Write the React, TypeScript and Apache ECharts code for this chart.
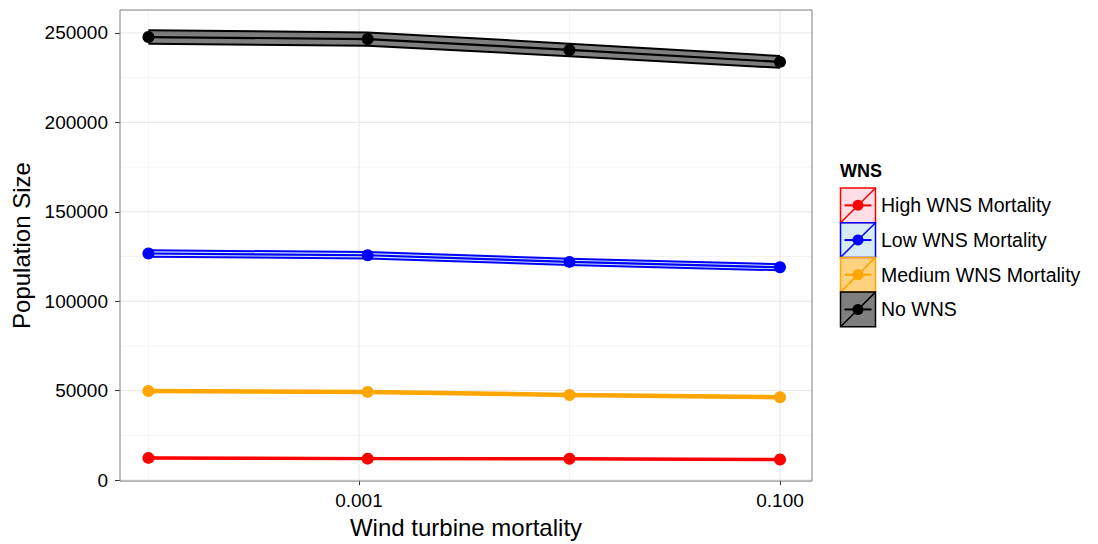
import React, { useEffect, useRef } from "react";
import * as echarts from "echarts";

// ---- data ----
const X_VALUES = [0.0001, 0.0011, 0.01, 0.1];
const X_TICKS = [0.001, 0.1];
const X_TICK_LABELS = ["0.001", "0.100"];
const X_MINOR = [0.0001, 0.01];
const Y_TICKS = [0, 50000, 100000, 150000, 200000, 250000];
const Y_MINOR = [25000, 75000, 125000, 175000, 225000];

const GROUP_NAMES = ["High WNS Mortality", "Low WNS Mortality", "Medium WNS Mortality", "No WNS"];

const HIGH_MEAN = [12400, 12000, 11900, 11500];
const HIGH_LOWER = [12000, 11600, 11500, 11100];
const HIGH_UPPER = [12800, 12400, 12300, 11900];

const LOW_MEAN = [126700, 125700, 122000, 119000];
const LOW_LOWER = [124900, 123900, 120300, 117300];
const LOW_UPPER = [128500, 127500, 123700, 120700];

const MED_MEAN = [49800, 49300, 47600, 46300];
const MED_LOWER = [49100, 48600, 46900, 45600];
const MED_UPPER = [50500, 50000, 48300, 47000];

const NO_MEAN = [247700, 246600, 240500, 233800];
const NO_LOWER = [243900, 242900, 237000, 230500];
const NO_UPPER = [251500, 250300, 244000, 237100];

const LINE_COLORS = ["#ff0000", "#0000ff", "#ffa500", "#000000"];
const FILL_COLORS = [
  "rgba(255,192,203,0.5)",
  "rgba(173,216,230,0.5)",
  "rgba(255,165,0,0.5)",
  "rgba(0,0,0,0.5)",
];

const FONT = '"Liberation Sans", Arial, Helvetica, sans-serif';

const X_MIN = -4.135;
const X_MAX = -0.848;
const Y_MIN = -560;
const Y_MAX = 262830;

export default function App() {
  const ref = useRef<HTMLDivElement>(null);

  useEffect(() => {
    if (!ref.current) return;
    const chart = echarts.init(ref.current, undefined, { renderer: "svg" });

    const means = [HIGH_MEAN, LOW_MEAN, MED_MEAN, NO_MEAN];
    const lowers = [HIGH_LOWER, LOW_LOWER, MED_LOWER, NO_LOWER];
    const uppers = [HIGH_UPPER, LOW_UPPER, MED_UPPER, NO_UPPER];
    const lx = X_VALUES.map((v) => Math.log10(v));

    const series: any[] = [];

    // grid lines (drawn as series so they sit under everything)
    const gridLine = (data: number[][], color: string, width: number) => ({
      type: "line",
      data,
      symbol: "none",
      silent: true,
      z: 0,
      lineStyle: { color, width },
    });
    Y_MINOR.forEach((v) => series.push(gridLine([[X_MIN, v], [X_MAX, v]], "#f4f4f4", 1)));
    X_MINOR.forEach((v) =>
      series.push(gridLine([[Math.log10(v), Y_MIN], [Math.log10(v), Y_MAX]], "#f4f4f4", 1))
    );
    Y_TICKS.forEach((v) => series.push(gridLine([[X_MIN, v], [X_MAX, v]], "#e6e6e6", 1)));
    X_TICKS.forEach((v) =>
      series.push(gridLine([[Math.log10(v), Y_MIN], [Math.log10(v), Y_MAX]], "#e6e6e6", 1))
    );

    // ribbons
    GROUP_NAMES.forEach((name, g) => {
      const data = lx.map((x, i) => [x, lowers[g][i], uppers[g][i]]);
      series.push({
        type: "custom",
        name: name + " band",
        data,
        z: 2,
        silent: true,
        encode: { x: 0, y: [1, 2] },
        renderItem: (params: any, api: any) => {
          if (params.dataIndexInside !== 0) return null;
          const n = data.length;
          const lo: number[][] = [];
          const up: number[][] = [];
          for (let i = 0; i < n; i++) {
            lo.push(api.coord([api.value(0, i), api.value(1, i)]));
            up.push(api.coord([api.value(0, i), api.value(2, i)]));
          }
          return {
            type: "group",
            children: [
              {
                type: "polygon",
                shape: { points: lo.concat(up.slice().reverse()) },
                style: { fill: FILL_COLORS[g], stroke: "none" },
              },
              {
                type: "polyline",
                shape: { points: lo },
                style: { stroke: LINE_COLORS[g], lineWidth: 2, fill: "none" },
              },
              {
                type: "polyline",
                shape: { points: up },
                style: { stroke: LINE_COLORS[g], lineWidth: 2, fill: "none" },
              },
            ],
          };
        },
      });
    });

    // mean lines + points
    GROUP_NAMES.forEach((name, g) => {
      series.push({
        type: "line",
        name,
        data: lx.map((x, i) => [x, means[g][i]]),
        z: 3,
        symbol: "circle",
        symbolSize: 12,
        showSymbol: true,
        lineStyle: { color: LINE_COLORS[g], width: 2.2 },
        itemStyle: { color: LINE_COLORS[g] },
      });
    });

    // legend graphics
    const graphics: any[] = [
      {
        type: "text",
        left: 840,
        top: 162,
        style: { text: "WNS", fontFamily: FONT, fontSize: 18, fontWeight: "bold", fill: "#000" },
      },
    ];
    const keyX = 840.5;
    const keyW = 35;
    const keyH = 34.7;
    GROUP_NAMES.forEach((name, g) => {
      const y = 188 + g * keyH;
      graphics.push({
        type: "group",
        children: [
          {
            type: "rect",
            shape: { x: keyX, y, width: keyW, height: keyH },
            style: { fill: FILL_COLORS[g], stroke: LINE_COLORS[g], lineWidth: 1.5 },
          },
          {
            type: "line",
            shape: { x1: keyX, y1: y + keyH, x2: keyX + keyW, y2: y },
            style: { stroke: LINE_COLORS[g], lineWidth: 1.5 },
          },
          {
            type: "line",
            shape: { x1: keyX + 4, y1: y + keyH / 2, x2: keyX + keyW - 4, y2: y + keyH / 2 },
            style: { stroke: LINE_COLORS[g], lineWidth: 2 },
          },
          {
            type: "circle",
            shape: { cx: keyX + keyW / 2, cy: y + keyH / 2, r: 5.5 },
            style: { fill: LINE_COLORS[g] },
          },
          {
            type: "text",
            x: 881,
            y: y + keyH / 2,
            style: {
              text: name,
              fontFamily: FONT,
              fontSize: 19.5,
              fill: "#000",
              verticalAlign: "middle",
              align: "left",
            },
          },
        ],
      });
    });

    chart.setOption({
      animation: false,
      backgroundColor: "#ffffff",
      grid: {
        left: 120,
        top: 10,
        width: 692,
        height: 472,
        show: true,
        borderColor: "#7f7f7f",
        borderWidth: 1,
        backgroundColor: "transparent",
        z: 10,
      },
      xAxis: {
        type: "value",
        min: X_MIN,
        max: X_MAX,
        name: "Wind turbine mortality",
        nameLocation: "middle",
        nameGap: 32,
        nameTextStyle: { fontFamily: FONT, fontSize: 24, color: "#000" },
        axisLine: { show: false },
        splitLine: { show: false },
        axisTick: {
          show: true,
          length: 5,
          customValues: X_TICKS.map((v) => Math.log10(v)),
          lineStyle: { color: "#333", width: 1 },
        },
        axisLabel: {
          customValues: X_TICKS.map((v) => Math.log10(v)),
          formatter: (v: number) => {
            const idx = X_TICKS.findIndex((t) => Math.abs(Math.log10(t) - v) < 1e-6);
            return idx >= 0 ? X_TICK_LABELS[idx] : "";
          },
          fontFamily: FONT,
          fontSize: 19,
          color: "#000",
          margin: 10,
        },
      },
      yAxis: {
        type: "value",
        min: Y_MIN,
        max: Y_MAX,
        name: "Population Size",
        nameLocation: "middle",
        nameGap: 86,
        nameTextStyle: { fontFamily: FONT, fontSize: 24, color: "#000" },
        axisLine: { show: false },
        splitLine: { show: false },
        axisTick: {
          show: true,
          length: 5,
          customValues: Y_TICKS,
          lineStyle: { color: "#333", width: 1 },
        },
        axisLabel: {
          customValues: Y_TICKS,
          formatter: (v: number) => String(v),
          fontFamily: FONT,
          fontSize: 19,
          color: "#000",
          margin: 12,
        },
      },
      series,
      graphic: graphics,
    });

    return () => chart.dispose();
  }, []);

  return (
    <div
      ref={ref}
      style={{ position: "fixed", left: 0, top: 0, width: 1098, height: 544, background: "#fff" }}
    />
  );
}
